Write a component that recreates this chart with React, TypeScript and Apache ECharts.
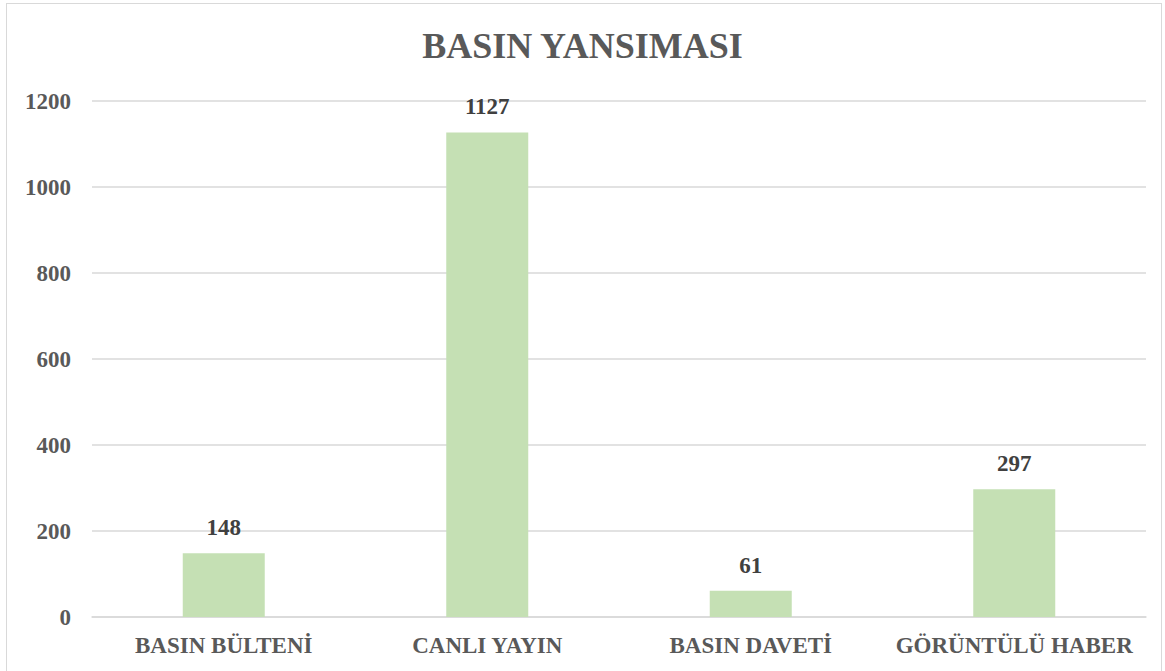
import React, { useEffect, useRef } from "react";
import * as echarts from "echarts";

const title = "BASIN YANSIMASI";
const categories = ["BASIN BÜLTENİ", "CANLI YAYIN", "BASIN DAVETİ", "GÖRÜNTÜLÜ HABER"];
const values = [148, 1127, 61, 297];
const yMin = 0;
const yMax = 1200;
const yInterval = 200;

const FONT = "'Liberation Serif', 'Times New Roman', serif";

export default function App() {
  const ref = useRef<HTMLDivElement>(null);
  useEffect(() => {
    if (!ref.current) return;
    const chart = echarts.init(ref.current, null, { renderer: "svg" });
    chart.setOption({
      animation: false,
      backgroundColor: "transparent",
      title: {
        text: title,
        left: "center",
        top: 23,
        textStyle: { fontFamily: FONT, fontSize: 36, fontWeight: "bold", color: "#595959" },
      },
      grid: { left: 92, right: 19, top: 101, bottom: 54, containLabel: false },
      xAxis: {
        type: "category",
        data: categories,
        axisLine: { show: true, lineStyle: { color: "#d9d9d9", width: 1.5 } },
        axisTick: { show: false },
        axisLabel: {
          interval: 0,
          fontFamily: FONT,
          fontSize: 23,
          fontWeight: "bold",
          color: "#595959",
          margin: 17,
        },
      },
      yAxis: {
        type: "value",
        min: yMin,
        max: yMax,
        interval: yInterval,
        axisLine: { show: false },
        axisTick: { show: false },
        splitLine: { lineStyle: { color: "#d9d9d9", width: 1.5 } },
        axisLabel: {
          formatter: (v: number) => String(v),
          fontFamily: FONT,
          fontSize: 23,
          fontWeight: "bold",
          color: "#595959",
          margin: 21,
        },
      },
      series: [
        {
          type: "bar",
          data: values,
          barWidth: 82,
          itemStyle: { color: "#c5e0b4" },
          label: {
            show: true,
            position: "top",
            distance: 14,
            fontFamily: FONT,
            fontSize: 23,
            fontWeight: "bold",
            color: "#404040",
          },
        },
      ],
    });
    return () => chart.dispose();
  }, []);
  return (
    <div style={{ position: "absolute", left: 0, top: 0, width: 1165, height: 671, background: "#fff" }}>
      <div
        style={{
          position: "absolute",
          left: 6,
          top: 3,
          width: 1156,
          height: 672,
          border: "1.5px solid #d9d9d9",
          boxSizing: "border-box",
        }}
      />
      <div ref={ref} style={{ position: "absolute", left: 0, top: 0, width: 1165, height: 671 }} />
    </div>
  );
}
